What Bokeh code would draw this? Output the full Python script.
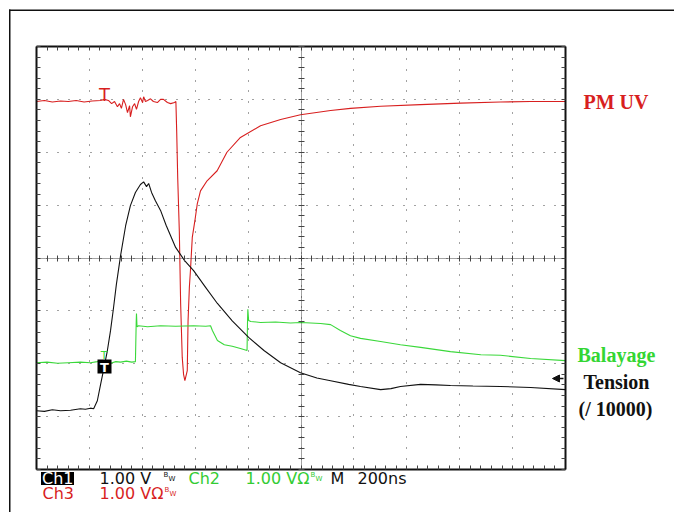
from bokeh.plotting import figure
from bokeh.models import (Range1d, Label, Arrow, NormalHead, LinearAxis, BoxAnnotation,
                          SingleIntervalTicker, Grid, CustomJSTickFormatter)
from bokeh.embed import file_html
from bokeh.resources import INLINE

# ---- data: time in ns (200 ns/div), amplitude in V (1 V/div) ----
# Ch3 : PM UV (red)
red_t = [0, 30, 60, 91, 120, 150, 180, 210, 242, 257, 272, 284, 295, 306, 314, 321,
         329, 337, 344, 352, 355, 363, 371, 378, 386, 393, 401, 405, 412, 420, 431,
         442, 457, 469, 480, 495, 507, 522, 527, 530, 534, 540, 545, 551, 556, 561,
         570, 573, 578, 582, 589, 599, 608, 620, 645, 683, 720, 771, 847, 923, 998,
         1112, 1187, 1301, 1452, 1603, 1754, 1868, 2000]
red_v = [2.96, 2.98, 2.95, 2.97, 2.96, 2.98, 2.95, 2.97, 2.98, 3.00, 2.98, 2.92, 2.96,
         2.86, 2.92, 2.83, 3.00, 2.90, 2.75, 2.88, 2.67, 2.86, 2.92, 2.81, 2.96, 3.03,
         2.94, 3.05, 2.96, 2.98, 3.01, 2.96, 2.94, 3.00, 3.00, 2.94, 2.92, 2.94, 2.96,
         2.40, 1.50, 0.50, -0.87, -1.88, -2.20, -2.32, -2.13, -1.19, -0.55, -0.24,
         0.39, 0.71, 1.03, 1.27, 1.46, 1.65, 2.00, 2.28, 2.50, 2.62, 2.71, 2.79, 2.83,
         2.87, 2.90, 2.93, 2.95, 2.96, 2.96]

# Ch1 : Tension / 10000 (black)
blk_t = [0, 30, 60, 91, 129, 166, 185, 204, 216, 230, 242, 253, 268, 280, 291, 302,
         318, 337, 355, 374, 393, 405, 416, 424, 435, 450, 469, 490, 526, 560, 594,
         640, 684, 740, 802, 860, 923, 998, 1060, 1112, 1180, 1225, 1301, 1340, 1376,
         1452, 1510, 1565, 1650, 1754, 1868, 2000]
blk_v = [-2.89, -2.90, -2.87, -2.89, -2.88, -2.85, -2.86, -2.84, -2.85, -2.70, -2.40,
         -2.13, -1.75, -1.37, -0.95, -0.50, 0.05, 0.61, 0.99, 1.24, 1.39, 1.44, 1.35,
         1.41, 1.24, 1.08, 0.90, 0.62, 0.20, -0.05, -0.24, -0.56, -0.86, -1.19, -1.50,
         -1.75, -1.98, -2.17, -2.27, -2.32, -2.39, -2.43, -2.49, -2.47, -2.43, -2.39,
         -2.40, -2.41, -2.42, -2.43, -2.45, -2.49]

# Ch2 : Balayage (green)
grn_t = [0, 40, 80, 120, 166, 204, 230, 250, 262, 280, 300, 318, 340, 360, 374, 377,
         378, 380, 386, 420, 469, 526, 594, 640, 658, 665, 684, 710, 740, 771, 796,
         798, 799, 802, 810, 847, 904, 960, 1000, 1074, 1112, 1149, 1187, 1225, 1301,
         1376, 1452, 1565, 1680, 1754, 1868, 2000]
grn_v = [-1.98, -1.97, -1.99, -1.98, -1.97, -1.98, -1.96, -1.94, -1.97, -1.99, -1.96,
         -1.97, -1.95, -1.97, -1.96, -1.20, -1.05, -1.30, -1.28, -1.30, -1.28, -1.29,
         -1.28, -1.29, -1.28, -1.37, -1.56, -1.64, -1.67, -1.71, -1.75, -1.15, -0.97,
         -1.18, -1.20, -1.22, -1.21, -1.23, -1.22, -1.24, -1.26, -1.37, -1.47, -1.52,
         -1.58, -1.64, -1.69, -1.77, -1.83, -1.84, -1.90, -1.94]

trace_labels = ["PM UV", "Balayage", "Tension", "(/ 10000)"]
readout = ["Ch1", "1.00 V", "Ch2", "1.00 V\u03a9", "M", "200ns", "Ch3", "1.00 V\u03a9"]

RED, GREEN, BLACK = "#d81f1f", "#3ad83a", "#111111"

# ---- layout: the plot frame fills the canvas; the graticule sits inside it ----
X0, X1 = 0, 2000        # 10 div x 200 ns
Y0, Y1 = -4, 4          # 8 div x 1 V
FL, FR, FT, FB = 36, 565, 46, 469          # graticule position on the page (px)
W, H = 674, 512


def px2x(px):
    return X0 + (px - FL) * (X1 - X0) / (FR - FL)


def py2y(py):
    return Y1 - (py - FT) * (Y1 - Y0) / (FB - FT)


p = figure(width=W, height=H,
           x_range=Range1d(px2x(0), px2x(W)), y_range=Range1d(py2y(H), py2y(0)),
           x_axis_type=None, y_axis_type=None, output_backend="svg",
           toolbar_location=None,
           min_border_left=0, min_border_right=0, min_border_top=0, min_border_bottom=0)
p.background_fill_color = "white"
p.border_fill_color = "white"
p.outline_line_color = None

# outer picture frame (top and left edges)
p.add_layout(BoxAnnotation(left=px2x(8.5), right=None, top=py2y(9), bottom=py2y(10.5),
                           fill_color=BLACK, fill_alpha=1, line_color=None))
p.add_layout(BoxAnnotation(left=px2x(8.5), right=px2x(10), top=py2y(9), bottom=None,
                           fill_color=BLACK, fill_alpha=1, line_color=None))

DOTS = "1 9 1 10 1 10 1 10 1 10"
p.add_layout(Grid(dimension=0, ticker=SingleIntervalTicker(interval=200, num_minor_ticks=0),
                  bounds=(X0, X1), cross_bounds=(Y0, Y1),
                  grid_line_color="#444", grid_line_width=1, grid_line_dash=DOTS))
p.add_layout(Grid(dimension=1, ticker=SingleIntervalTicker(interval=1, num_minor_ticks=0),
                  bounds=(Y0, Y1), cross_bounds=(X0, X1),
                  grid_line_color="#444", grid_line_width=1, grid_line_dash=DOTS))

blank = CustomJSTickFormatter(code="return ''")


def tick_axis(side, interval, loc, bounds, tin, tout, border):
    ax = LinearAxis(ticker=SingleIntervalTicker(interval=interval, num_minor_ticks=0),
                    formatter=blank, major_tick_in=tin, major_tick_out=tout,
                    major_tick_line_color="#444", minor_tick_line_color=None,
                    major_label_standoff=0, major_label_text_font_size="1px",
                    fixed_location=loc, bounds=bounds)
    if border:
        ax.axis_line_color = BLACK
        ax.axis_line_width = 2
    else:
        ax.axis_line_color = "#444"
        ax.axis_line_dash = "1 1"
    p.add_layout(ax, side)


# graticule border with small ticks every 1/5 division
tick_axis("below", 40, Y0, (X0, X1), 4, 0, True)
tick_axis("above", 40, Y1, (X0, X1), 4, 0, True)
tick_axis("left", 0.2, X0, (Y0, Y1), 4, 0, True)
tick_axis("right", 0.2, X1, (Y0, Y1), 4, 0, True)
# centre cross
tick_axis("below", 40, (Y0 + Y1) / 2, (X0, X1), 3, 3, False)
tick_axis("left", 0.2, (X0 + X1) / 2, (Y0, Y1), 3, 3, False)

# ---- traces ----
p.line(red_t, red_v, line_color=RED, line_width=1.1)
p.line(grn_t, grn_v, line_color=GREEN, line_width=1.1)
p.line(blk_t, blk_v, line_color=BLACK, line_width=1.1)


def lab(text, px, py, color=BLACK, size=16, font="DejaVu Sans", style="normal",
        align="left", **kw):
    # py is the wanted baseline on the page; Bokeh's text box sits ~0.33 em lower
    p.add_layout(Label(x=px2x(px), y=py2y(py - 0.33 * size), text=text, text_color=color,
                       text_font_size=f"{size}px", text_font=font, text_font_style=style,
                       text_align=align, text_baseline="alphabetic", **kw))


def black_box(l, r, t, b):
    p.add_layout(BoxAnnotation(left=px2x(l), right=px2x(r), top=py2y(t), bottom=py2y(b),
                               fill_color="black", fill_alpha=1, line_color=None))


# trigger markers
lab("T", 104, 100, color=RED, size=18, align="center")
lab("T", 103.5, 359, color=GREEN, size=11, align="center")
black_box(97, 111, 359, 373)
lab("T", 104, 371, color="white", size=13, style="bold", align="center")

# ground marker arrow for Ch1
p.add_layout(Arrow(end=NormalHead(size=7, fill_color=BLACK, line_color=BLACK),
                   x_start=px2x(563), y_start=py2y(378), x_end=px2x(552), y_end=py2y(378),
                   line_color=BLACK, line_width=1.5))

# right side labels
SERIF = "Liberation Serif"
lab(trace_labels[0], 583, 108, color=RED, size=20, font=SERIF, style="bold")
lab(trace_labels[1], 577, 361, color="#33d633", size=20, font=SERIF, style="bold")
lab(trace_labels[2], 583, 388, size=20, font=SERIF, style="bold")
lab(trace_labels[3], 578, 415, size=20, font=SERIF, style="bold")

# readout
black_box(40.5, 73.5, 471.5, 484.5)
lab(readout[0], 41.5, 483.5, color="white")
lab(readout[1], 99, 483)
lab("B", 163, 477, size=7)
lab("W", 168, 481, size=7)
lab(readout[2], 188, 483, color="#33cc33")
lab(readout[3], 245, 483, color="#33cc33")
lab("B", 310, 477, size=7, color="#33cc33")
lab("W", 315, 481, size=7, color="#33cc33")
lab(readout[4], 330, 483)
lab(readout[5], 357, 483)
lab(readout[6], 42, 498, color=RED)
lab(readout[7], 99, 498, color=RED)
lab("B", 164, 492, size=7, color=RED)
lab("W", 169, 496, size=7, color=RED)

open("out.html", "w").write(file_html(p, INLINE))
